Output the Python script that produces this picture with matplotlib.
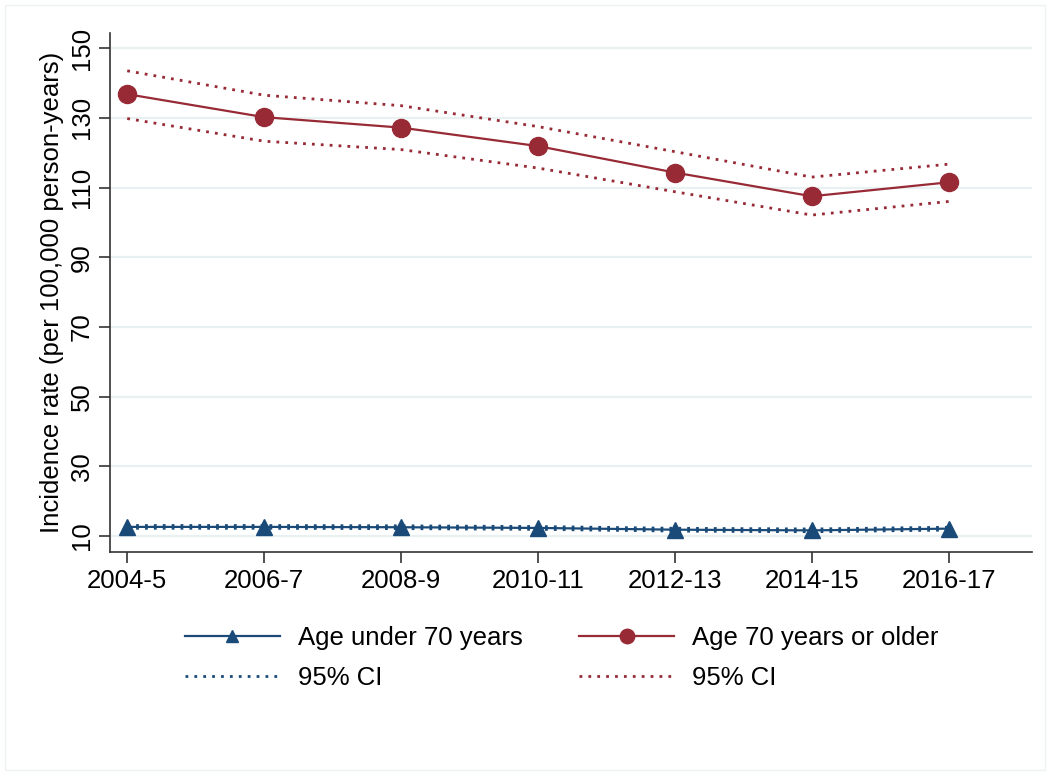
import numpy as np
import matplotlib.pyplot as plt
from matplotlib.patches import Rectangle

plt.rcParams['font.family'] = ['Liberation Sans', 'DejaVu Sans']

# incidence per 100,000 person-years
periods = ['2004-5', '2006-7', '2008-9', '2010-11', '2012-13', '2014-15', '2016-17']
old_rate = [136.8, 130.2, 127.2, 121.9, 114.3, 107.5, 111.5]
old_hi = [143.5, 136.5, 133.5, 127.5, 120.3, 113.0, 116.7]
old_lo = [129.8, 123.3, 120.9, 115.6, 108.8, 102.1, 106.0]
young_rate = [12.6, 12.6, 12.5, 12.3, 11.8, 11.6, 12.1]
young_hi = [13.0, 13.0, 12.9, 12.7, 12.2, 12.0, 12.5]
young_lo = [12.2, 12.2, 12.1, 11.9, 11.4, 11.2, 11.7]
yticks = [10, 30, 50, 70, 90, 110, 130, 150]

red = '#982a36'
blue = '#1a4a78'
grid_col = '#e8f0f2'
fs = 18.5

fig = plt.figure(figsize=(10.5, 7.72), dpi=100)
fig.patches.append(Rectangle((0.005, 0.003), 0.99, 0.99, transform=fig.transFigure,
                             fill=False, edgecolor='#eef2f3', lw=1))
ax = fig.add_axes([0.105, 0.285, 0.878, 0.672])

x = np.arange(len(periods))
dots = (0, (1, 2.2))

young_line, = ax.plot(x, young_rate, color=blue, lw=1.6, marker='^', ms=11, zorder=4)
young_ci, = ax.plot(x, young_hi, color=blue, lw=2, ls=dots, zorder=3)
ax.plot(x, young_lo, color=blue, lw=2, ls=dots, zorder=3)

old_line, = ax.plot(x, old_rate, color=red, lw=1.6, marker='o', ms=13, zorder=4)
old_ci, = ax.plot(x, old_hi, color=red, lw=2, ls=dots, zorder=3)
ax.plot(x, old_lo, color=red, lw=2, ls=dots, zorder=3)

ax.set_xlim(-0.124, 6.61)
ax.set_ylim(5.4, 154.3)
ax.set_xticks(x)
ax.set_xticklabels(periods, fontsize=fs)
ax.set_yticks(yticks)
ax.set_yticklabels([str(v) for v in yticks], fontsize=fs, rotation=90, va='center')
ax.set_ylabel('Incidence rate (per 100,000 person-years)', fontsize=fs, labelpad=4)

ax.yaxis.grid(True, color=grid_col, lw=1.6)
ax.set_axisbelow(True)
for side in ['top', 'right']:
    ax.spines[side].set_visible(False)
for side in ['left', 'bottom']:
    ax.spines[side].set_color('#333333')
    ax.spines[side].set_linewidth(1.2)
ax.tick_params(length=8, width=1.2, color='#333333', pad=4)

fig.legend([young_line, young_ci, old_line, old_ci],
           ['Age under 70 years', '95% CI', 'Age 70 years or older', '95% CI'],
           ncol=2, loc='upper left', bbox_to_anchor=(0.154, 0.219),
           frameon=False, fontsize=fs, handlelength=3.7, handletextpad=0.7,
           columnspacing=2.2, labelspacing=0.62, markerscale=0.8)

fig.savefig('out.png', dpi=100, facecolor='white')
